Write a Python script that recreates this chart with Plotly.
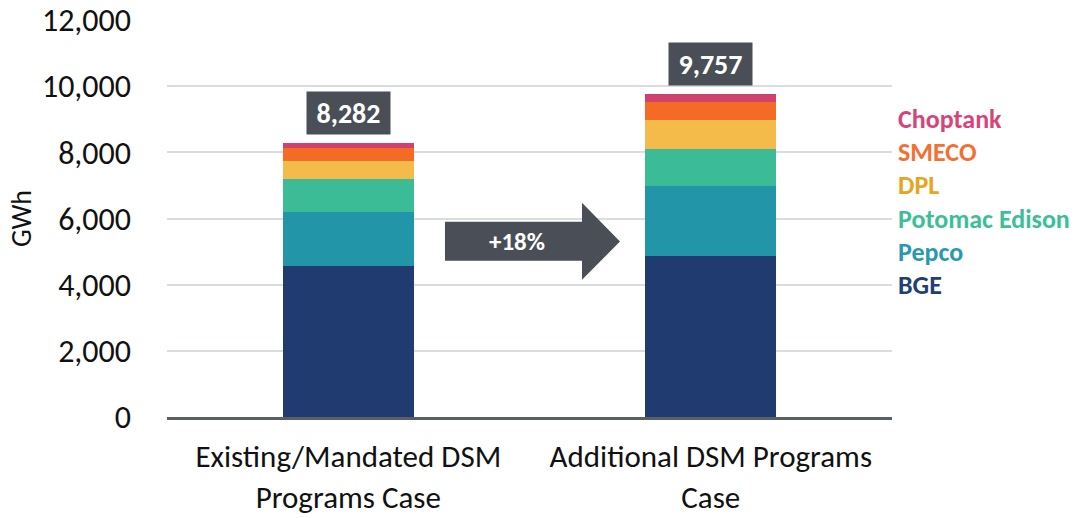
import plotly.graph_objects as go

categories = ["Existing/Mandated DSM<br>Programs Case", "Additional DSM Programs<br>Case"]
series_names = ["BGE", "Pepco", "Potomac Edison", "DPL", "SMECO", "Choptank"]
bge = [4560, 4880]
pepco = [1640, 2100]
potomac = [1000, 1120]
dpl = [530, 870]
smeco = [390, 550]
choptank = [162, 237]
totals = [8282, 9757]
y_ticks = [0, 2000, 4000, 6000, 8000, 10000, 12000]

bar_colors = ["#1f3b70", "#2395a8", "#3bbb96", "#f4bb4a", "#f36b25", "#d1416f"]
label_colors = ["#213f74", "#2899b0", "#3cbf98", "#e6a520", "#f47030", "#d6457a"]
FONT = "Carlito, Calibri, Lato, sans-serif"

fig = go.Figure()
for name, vals, col in zip(series_names, [bge, pepco, potomac, dpl, smeco, choptank], bar_colors):
    fig.add_trace(go.Bar(x=categories, y=vals, name=name, marker_color=col,
                         marker_line_width=0, width=0.362, showlegend=False,
                         hoverinfo="name+y"))

# total labels
for c, t in zip(categories, totals):
    fig.add_annotation(x=c, y=t, xref="x", yref="y", text=f"<b>{t:,}</b>",
                       showarrow=False, yshift=30, bgcolor="#4a4f57",
                       width=81, height=40, font=dict(family=FONT, size=28, color="white"))

# legend labels at right
legend_y = [4000, 5000, 6000, 7000, 8000, 9000]
for name, col, yv in zip(series_names, label_colors, legend_y):
    fig.add_annotation(x=1.005, y=yv, xref="paper", yref="y", text=f"<b>{name}</b>",
                       showarrow=False, xanchor="left", yanchor="middle",
                       font=dict(family=FONT, size=26, color=col))

# growth arrow
x0, x1, x2 = 0.3834, 0.5724, 0.6248
yb0, yb1, yh0, yh1, ytip = 0.3934, 0.4918, 0.3455, 0.5397, 0.4421
path = (f"M {x0},{yb0} L {x1},{yb0} L {x1},{yh0} L {x2},{ytip} L {x1},{yh1} "
        f"L {x1},{yb1} L {x0},{yb1} Z")
fig.add_shape(type="path", path=path, xref="paper", yref="paper",
              fillcolor="#4a4f57", line_width=0, layer="above")
growth = round((totals[1] / totals[0] - 1) * 100)
fig.add_annotation(x=(x0 + x1) / 2 + 0.005, y=(yb0 + yb1) / 2, xref="paper", yref="paper",
                   text=f"<b>+{growth}%</b>", showarrow=False,
                   font=dict(family=FONT, size=25, color="white"))

fig.update_layout(
    width=1075, height=518,
    margin=dict(l=167, r=183, t=20, b=101, autoexpand=False),
    paper_bgcolor="white", plot_bgcolor="white",
    barmode="stack", bargap=0,
    font=dict(family=FONT, color="#111111"),
)
fig.update_yaxes(range=[0, 12000], tickvals=y_ticks, tickformat=",",
                 showgrid=True, gridcolor="#d9dce0", gridwidth=2,
                 zeroline=False, showline=False, automargin=False,
                 tickfont=dict(family=FONT, size=32, color="#111111"),
                 ticklabelstandoff=35,
                 title=dict(text="GWh", font=dict(family=FONT, size=28, color="#111111"), standoff=2))
fig.update_xaxes(showline=True, linecolor="#595f66", linewidth=3, automargin=False,
                 tickfont=dict(family=FONT, size=31, color="#111111"),
                 ticklabelstandoff=10)

fig.write_html("out.html", config={"displayModeBar": False},
               post_script="document.body.style.margin='0';document.body.style.overflow='hidden';")
